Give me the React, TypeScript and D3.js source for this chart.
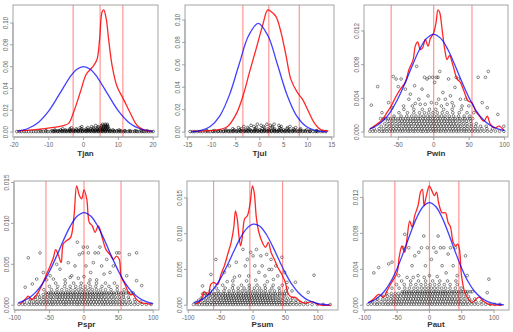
import React from "react";
import * as d3 from "d3";

// ---------------- DATA ----------------
const panelNames = ["Tjan", "Tjul", "Pwin", "Pspr", "Psum", "Paut"];

const tjanXTicks = [-20, -10, 0, 10, 20];
const tjulXTicks = [-15, -10, -5, 0, 5, 10, 15];
const pwinXTicks = [-50, 0, 50, 100];
const psprXTicks = [-100, -50, 0, 50, 100];
const psumXTicks = [-100, -50, 0, 50, 100];
const pautXTicks = [-100, -50, 0, 50, 100];

const tempYTicks = [0, 0.02, 0.04, 0.06, 0.08, 0.1];
const precipYTicksA = [0, 0.004, 0.008, 0.012];
const precipYTicksB = [0, 0.005, 0.01, 0.015];

const tjanVLines = [-3.0, 4.75, 11.3];
const tjulVLines = [-3.5, 1.9, 8.25];
const pwinVLines = [-60, 0, 54];
const psprVLines = [-55, 0, 53.5];
const psumVLines = [-61, -5, 45.5];
const pautVLines = [-53.5, 0, 45.5];

// red kernel density curves
const tjanRedX = [-18.75, -12, -8, -5.8, -4.3, -2.9, -1.0, 0.77, 2.4, 3.8, 4.6, 5.3, 5.77, 6.5, 7.2, 8.2, 9.6, 11.5, 13.5, 15.4, 17.3, 19.7];
const tjanRedY = [0.001, 0.003, 0.0045, 0.006, 0.008, 0.018, 0.036, 0.053, 0.059, 0.066, 0.085, 0.110, 0.112, 0.104, 0.085, 0.061, 0.042, 0.030, 0.017, 0.006, 0.002, 0.0006];

const tjulRedX = [-14, -8.75, -6.7, -4.9, -3.5, -2.15, -0.76, 0.6, 1.67, 2.36, 3.4, 4.44, 5.5, 6.5, 7.9, 8.96, 10, 11.4, 12.8, 14.3];
const tjulRedY = [0.0006, 0.002, 0.005, 0.016, 0.032, 0.053, 0.074, 0.095, 0.109, 0.1075, 0.103, 0.089, 0.068, 0.047, 0.035, 0.029, 0.020, 0.008, 0.002, 0.001];

const pwinRedX = [-90.6, -82.5, -73, -66, -60, -54, -47, -40, -35, -29, -26, -22.6, -18.9, -15.6, -11.8, -8, -4.7, 0, 3.3, 6.1, 8.5, 11.8, 15.6, 18.9, 22.2, 26.9, 33, 37.7, 42.5, 48.6, 54, 59, 64.6, 70.8, 75.5, 80, 87, 92, 99];
const pwinRedY = [0.0003, 0.0008, 0.0014, 0.0023, 0.0031, 0.0041, 0.0051, 0.0059, 0.0074, 0.0086, 0.0102, 0.0107, 0.0098, 0.0100, 0.0110, 0.0102, 0.0111, 0.0118, 0.0130, 0.0145, 0.0142, 0.0122, 0.0098, 0.0086, 0.0091, 0.0080, 0.0063, 0.0059, 0.0049, 0.0037, 0.0035, 0.0025, 0.0019, 0.0013, 0.0019, 0.0009, 0.0005, 0.0007, 0.0002];

const psprRedX = [-92.5, -85.3, -80.5, -75.7, -68.4, -61.2, -55, -49, -44.3, -41, -37, -33, -30, -25, -19.3, -14.5, -10.6, -6.7, -3.4, 0, 3.9, 7.7, 12, 16, 20.7, 25.5, 31.8, 37.6, 42.4, 47, 51, 53.5, 59, 66.5, 71, 76, 83, 90.6, 97.8];
const psprRedY = [0.0001, 0.0007, 0.0011, 0.0007, 0.0013, 0.0024, 0.0036, 0.0048, 0.0058, 0.0068, 0.0061, 0.0052, 0.0075, 0.0079, 0.0083, 0.0109, 0.0146, 0.0134, 0.0130, 0.0141, 0.0130, 0.0101, 0.0097, 0.0089, 0.0097, 0.0085, 0.0068, 0.0062, 0.0056, 0.0060, 0.0056, 0.0036, 0.0026, 0.0013, 0.0013, 0.0007, 0.0003, 0.0002, 0.0001];

const psumRedX = [-88.8, -81, -75.7, -69.5, -65.3, -61, -54.8, -49.6, -44.4, -39.2, -33.9, -29.8, -27.2, -24.5, -21.9, -19.3, -16.7, -13, -8.9, -4.7, -1, 1.6, 5.2, 8.9, 14.1, 19.3, 23.5, 27.7, 32.9, 38.1, 44.4, 49.6, 54.8, 60, 65.3, 73.1, 81, 91.4, 101.8, 120];
const psumRedY = [0.00014, 0.0006, 0.0019, 0.0015, 0.0029, 0.0032, 0.0029, 0.0043, 0.0055, 0.0071, 0.0088, 0.0109, 0.0132, 0.0121, 0.0097, 0.0083, 0.0095, 0.0121, 0.0125, 0.0142, 0.0167, 0.0158, 0.0121, 0.0102, 0.0088, 0.0081, 0.0088, 0.0074, 0.0064, 0.0053, 0.0043, 0.0032, 0.0015, 0.0011, 0.0011, 0.0005, 0.0003, 0.0005, 0.00005, 0.00002];

const pautRedX = [-94, -86.3, -78.6, -70.8, -65.6, -60.5, -55.3, -50.1, -46.5, -42.4, -38.2, -34.6, -30.5, -26.9, -22.7, -17.6, -13.4, -10.9, -8.3, -4.7, 0, 4.1, 7.8, 10.9, 14.5, 19.6, 24.8, 28.9, 32.6, 36.7, 40.3, 43.9, 46.5, 49.6, 54.8, 60, 66.1, 76.5, 84.2, 92, 112];
const pautRedY = [0.0003, 0.0007, 0.0012, 0.0009, 0.0016, 0.0023, 0.0029, 0.0036, 0.0055, 0.0066, 0.0059, 0.0075, 0.0094, 0.0087, 0.0100, 0.0111, 0.0127, 0.0129, 0.0111, 0.0122, 0.0133, 0.0127, 0.0122, 0.0126, 0.0113, 0.0103, 0.0103, 0.0092, 0.0087, 0.0070, 0.0066, 0.0068, 0.0062, 0.0033, 0.0014, 0.0007, 0.0003, 0.0009, 0.0004, 0.0001, 0.00002];

// blue fitted normal curves
const tjanBlueX = [-19, -16, -13, -10, -7, -4, -2, 0, 2, 4, 7, 10, 13, 16, 20];
const tjanBlueY = [0.0010, 0.0033, 0.0089, 0.0194, 0.0345, 0.0500, 0.0574, 0.0600, 0.0574, 0.0500, 0.0345, 0.0194, 0.0089, 0.0033, 0.0007];

const tjulBlueX = [-14.3, -12.3, -10.3, -8.3, -6.3, -4.3, -2.3, -0.3, 1.7, 3.7, 5.7, 7.7, 9.7, 11.7, 14.0];
const tjulBlueY = [0.0003, 0.0013, 0.0050, 0.0145, 0.0332, 0.0603, 0.0861, 0.0970, 0.0861, 0.0603, 0.0332, 0.0145, 0.0050, 0.0013, 0.0003];

const pwinBlueX = [-90, -80, -70, -60, -50, -40, -30, -20, -10, 0, 10, 20, 30, 40, 50, 60, 70, 80, 90, 100];
const pwinBlueY = [0.00038, 0.00078, 0.00146, 0.00253, 0.00404, 0.0059, 0.00793, 0.0098, 0.01112, 0.0116, 0.01112, 0.0098, 0.00793, 0.0059, 0.00404, 0.00253, 0.00146, 0.00078, 0.00038, 0.00017];

const psprBlueX = [-95, -90, -80, -70, -60, -50, -40, -30, -20, -10, 0, 10, 20, 30, 40, 50, 60, 70, 80, 90, 100];
const psprBlueY = [0.0003, 0.00043, 0.00086, 0.00157, 0.00265, 0.00413, 0.00594, 0.00788, 0.00964, 0.01088, 0.01133, 0.01088, 0.00964, 0.00788, 0.00594, 0.00413, 0.00265, 0.00157, 0.00086, 0.00043, 0.0002];

const psumBlueX = [-92, -80, -70, -60, -50, -40, -30, -20, -10, 0, 10, 20, 30, 40, 50, 60, 70, 80, 90, 100, 110, 118];
const psumBlueY = [0.00031, 0.00074, 0.00139, 0.00239, 0.00379, 0.00555, 0.0075, 0.00934, 0.01071, 0.01134, 0.01107, 0.00996, 0.00826, 0.00632, 0.00446, 0.0029, 0.00174, 0.00096, 0.00049, 0.00023, 0.0001, 0.00005];

const pautBlueX = [-95, -90, -80, -70, -60, -50, -40, -30, -20, -10, 0, 10, 20, 30, 40, 50, 60, 70, 80, 90, 100, 110, 115];
const pautBlueY = [0.00028, 0.00041, 0.00083, 0.00153, 0.00261, 0.0041, 0.00593, 0.0079, 0.0097, 0.01097, 0.01143, 0.01097, 0.0097, 0.0079, 0.00593, 0.0041, 0.00261, 0.00153, 0.00083, 0.00041, 0.00019, 0.00008, 0.00005];

// observation points: rows of [y, x values] and sparse "x y" pairs
const tjanDotRows: [number, string][] = [
  [0.0005, "-19.2 -18.5 -17.9 -17.1 -16.5 -15.8 -15.0 -14.4 -13.7 -13.0 -12.2 -11.6 -10.9 -10.3 -9.5 -8.8 -8.2 -7.5 -6.9 -6.2 -5.6 -4.9 -4.2 -3.6 -2.9 -2.3 -1.6 -0.9 -0.3 0.4 1.0 1.7 2.3 3.0 3.6 4.3 4.9 5.6 6.2 6.9 7.5 8.2 8.8 9.5 10.1 10.8 11.4 12.1 12.8 13.4 14.1 14.7 15.4 16.0 16.7 17.4 18.0 18.7 19.3 20.0"],
  [0.0009, "-8.5 -7.4 -6.1 -5.0 -3.9 -2.7 -1.5 -0.4 0.8 2.0 3.1 4.2 5.3 6.4 7.6 8.9 10.3 11.8 13.5 15.2 17.1"],
  [0.0013, "-12.5 -10.8 -9.1 -8.0 -7.1 -6.3 -5.4 -4.6 -3.8 -3.1 -2.4 -1.6 -0.9 -0.2 0.6 1.3 2.0 2.7 3.4 4.1 4.8 5.5 6.2 6.9 7.7 8.6 9.6 10.7 11.9 13.2 14.8 16.5 18.3"],
  [0.002, "-8.3 -6.6 -5.2 -4.0 -2.9 -1.9 -0.9 0.1 1.0 1.8 2.6 3.4 4.1 4.7 5.3 5.9 6.5 7.2 8.4 10.2"],
  [0.003, "-6.0 -3.9 -2.1 -0.6 0.8 2.0 3.0 3.9 4.7 5.4 6.0 6.6 7.3"],
  [0.004, "-3.5 -1.0 1.2 2.8 4.1 5.0 5.7 6.3 6.9"],
  [0.005, "-0.5 2.3 4.2 5.2 5.9 6.5 7.0"],
  [0.006, "3.5 5.1 5.8 6.4 6.9"],
  [0.0072, "5.5 6.2 6.8"],
];
const tjulDotRows: [number, string][] = [
  [0.0005, "-14.5 -14.0 -13.5 -12.9 -12.4 -11.9 -11.3 -10.8 -10.3 -9.7 -9.2 -8.7 -8.1 -7.6 -7.1 -6.5 -6.0 -5.5 -4.9 -4.4 -3.9 -3.3 -2.8 -2.3 -1.7 -1.2 -0.7 -0.1 0.4 0.9 1.5 2.0 2.5 3.1 3.6 4.1 4.7 5.2 5.7 6.3 6.8 7.3 7.9 8.4 8.9 9.5 10.0 10.5 11.1 11.6 12.1 12.7 13.2 13.8"],
  [0.0009, "-9.8 -8.6 -7.5 -6.5 -5.6 -4.8 -4.0 -3.2 -2.5 -1.8 -1.1 -0.4 0.3 1.0 1.7 2.4 3.1 3.8 4.5 5.3 6.1 7.0 8.0 9.1 10.4 11.8"],
  [0.0013, "-11.0 -9.4 -8.2 -7.1 -6.2 -5.4 -4.6 -3.8 -3.1 -2.4 -1.7 -1.0 -0.3 0.4 1.1 1.8 2.5 3.2 3.9 4.6 5.3 6.0 6.8 7.6 8.5 9.5 10.6 11.9"],
  [0.002, "-7.0 -5.3 -4.1 -3.0 -2.0 -1.0 0.0 1.0 2.0 3.0 4.0 5.0 6.1 7.2 8.4 9.8"],
  [0.003, "-5.6 -3.8 -2.3 -0.9 0.5 1.8 3.1 4.4 5.7 7.0 8.5"],
  [0.004, "-4.4 -2.5 -0.7 1.0 2.6 4.2 5.8 7.5"],
  [0.005, "-3.3 -1.2 0.8 2.6 4.5 6.3"],
  [0.006, "-1.8 0.3 2.2 4.0"],
  [0.007, "-0.5 1.5 3.0"],
];
const pwinDotRows: [number, string][] = [
  [0.0001, "-90 -86 -82 -77 -73 -70 -66 -62 -58 -55 -51 -47 -44 -40 -36 -33 -29 -26 -22 -18 -15 -11 -8 -4 0 3 7 10 14 17 21 25 28 32 35 39 43 46 50 54 58 62 66 71 76 81 87 93 99"],
  [0.0004, "-84 -77 -71 -66 -61 -57 -53 -49 -45 -41 -37 -33 -29 -25 -21 -17 -13 -9 -5 -1 3 7 11 15 19 23 27 31 35 39 43 47 52 57 62 68 75 83"],
  [0.0007, "-74 -67 -62 -57 -52 -48 -43 -39 -35 -31 -26 -22 -18 -14 -10 -6 -2 2 6 10 14 18 22 26 30 34 38 43 48 53 59 66 74"],
  [0.001, "-69 -63 -58 -53 -48 -44 -40 -36 -32 -28 -24 -20 -16 -12 -8 -4 0 4 8 12 16 20 24 28 32 37 42 47 53 60"],
  [0.0013, "-65 -59 -54 -49 -45 -41 -37 -33 -29 -25 -21 -17 -13 -9 -5 -1 3 7 11 15 19 23 27 31 36 41 46 52"],
  [0.0016, "-75 -71 -68 -64 -61 -57 -54 -50 -47 -43 -40 -36 -33 -29 -26 -22 -19 -15 -12 -8 -5 -1 2 6 9 13 16 20 23 27 30 34 37 41 44 48 51 55"],
  [0.0019, "-56 -46 -38 -31 -25 -19 -14 -9 -4 1 6 11 16 22 28 35 43 51"],
  [0.0023, "-49 -37 -28 -20 -13 -7 -1 5 12 19 27 36 47"],
  [0.0027, "-42 -28 -16 -6 3 14 26 39"],
];
const psprDotRows: [number, string][] = [
  [0.0001, "-94 -89 -85 -80 -76 -72 -68 -64 -60 -56 -52 -48 -45 -41 -37 -33 -29 -26 -22 -18 -14 -10 -7 -3 1 5 8 12 16 20 24 28 31 35 39 43 47 51 55 59 63 68 73 78 84 90 97"],
  [0.0004, "-86 -79 -73 -68 -63 -58 -54 -50 -46 -42 -38 -34 -30 -26 -22 -18 -14 -10 -6 -2 2 6 10 14 18 22 26 30 34 38 42 46 51 56 61 67 74 82"],
  [0.0007, "-77 -70 -64 -59 -54 -49 -45 -40 -36 -32 -28 -24 -20 -16 -12 -8 -4 0 4 8 12 16 20 24 28 32 37 42 47 52 58 65 73"],
  [0.001, "-70 -64 -58 -53 -48 -44 -39 -35 -31 -27 -23 -19 -15 -11 -7 -3 1 5 9 13 17 21 25 30 35 40 45 51 57 64"],
  [0.0013, "-66 -59 -53 -48 -43 -39 -35 -31 -27 -23 -19 -15 -11 -7 -3 1 5 9 13 17 21 25 29 34 39 44 50 57"],
  [0.0015, "-55 -51 -48 -44 -41 -37 -34 -30 -27 -23 -20 -16 -13 -9 -6 -2 1 5 8 12 15 19 22 26 29 33 36 40 43 47 50 54 57 61 64 68 71"],
  [0.0019, "-58 -47 -39 -32 -25 -19 -13 -8 -3 2 7 12 18 24 31 39 48 58"],
  [0.0023, "-50 -38 -28 -20 -12 -5 2 9 17 26 36 48"],
  [0.0027, "-41 -27 -15 -4 7 18 31 44"],
];
const psumDotRows: [number, string][] = [
  [0.0001, "-92 -87 -83 -79 -75 -71 -67 -63 -59 -55 -51 -47 -43 -39 -35 -31 -27 -23 -19 -15 -11 -7 -3 1 5 9 13 17 21 25 29 33 37 41 45 49 53 57 62 67 72 78 84 91 99 108 119"],
  [0.0004, "-88 -81 -75 -70 -65 -60 -56 -52 -48 -44 -40 -36 -32 -28 -24 -20 -16 -12 -8 -4 0 4 8 12 16 20 24 28 32 36 40 44 49 54 60 66 73 81"],
  [0.0007, "-84 -76 -70 -64 -59 -54 -50 -45 -41 -37 -33 -29 -25 -21 -17 -13 -9 -5 -1 3 7 11 15 19 23 27 31 35 40 45 51 58 66"],
  [0.001, "-80 -72 -66 -60 -55 -50 -46 -42 -38 -34 -30 -26 -22 -18 -14 -10 -6 -2 2 6 10 14 18 22 26 30 35 40 46 53 61"],
  [0.0013, "-75 -68 -62 -57 -52 -47 -43 -39 -35 -31 -27 -23 -19 -15 -11 -7 -3 1 5 9 13 17 21 25 30 35 41 48"],
  [0.0016, "-78 -74 -71 -67 -64 -60 -57 -53 -50 -46 -43 -39 -36 -32 -29 -25 -22 -18 -15 -11 -8 -4 -1 3 6 10 13 17 20 24 27 31 34 38 41 45 48 52"],
  [0.002, "-66 -54 -45 -37 -30 -23 -17 -11 -5 1 7 13 19 26 33 41 50 60"],
  [0.0024, "-57 -43 -32 -23 -14 -6 2 10 19 29 40 53"],
  [0.0028, "-47 -31 -18 -6 6 18 31 45"],
];
const pautDotRows: [number, string][] = [
  [0.0001, "-95 -90 -85 -81 -77 -72 -68 -64 -60 -56 -52 -48 -44 -40 -36 -32 -28 -24 -20 -16 -12 -8 -4 0 4 8 12 16 20 24 28 32 36 40 44 48 52 56 60 65 70 75 81 87 94 101 109"],
  [0.0004, "-88 -81 -75 -69 -64 -59 -55 -51 -47 -43 -39 -35 -31 -27 -23 -19 -15 -11 -7 -3 1 5 9 13 17 21 25 29 33 37 41 45 49 54 59 65 72 80"],
  [0.0007, "-80 -72 -66 -60 -55 -50 -46 -41 -37 -33 -29 -25 -21 -17 -13 -9 -5 -1 3 7 11 15 19 23 27 31 35 39 44 49 55 62 70"],
  [0.001, "-72 -65 -59 -54 -49 -45 -40 -36 -32 -28 -24 -20 -16 -12 -8 -4 0 4 8 12 16 20 24 28 32 37 42 47 53 60"],
  [0.0013, "-66 -59 -53 -48 -43 -39 -35 -31 -27 -23 -19 -15 -11 -7 -3 1 5 9 13 17 21 25 29 34 39 44 50 57"],
  [0.0015, "-42 -39 -35 -32 -28 -25 -21 -18 -14 -11 -7 -4 0 3 7 10 14 17 21 24 28 31 35 38 42 45 49 52 56 59 63 66"],
  [0.0019, "-58 -47 -38 -31 -24 -18 -12 -7 -2 3 8 13 19 25 32 40 49"],
  [0.0023, "-51 -39 -29 -21 -13 -6 1 8 15 23 32 43"],
  [0.0027, "-43 -29 -17 -6 5 16 28 41"],
];

const pwinSparse = "-88 0.0032 -79 0.0054 -57 0.0066 -53 0.0063 -50 0.0054 -46 0.0063 -40 0.0051 -35 0.0039 -33 0.0045 -30 0.0031 -27 0.0055 -24 0.0078 -21 0.0039 -19 0.0033 -16.5 0.0051 -13 0.0065 -9.4 0.0063 -8 0.0043 -6 0.0065 -3.3 0.0035 -1.4 0.0065 1.4 0.0059 3.8 0.0065 6.1 0.0065 7 0.0039 8.5 0.0072 10.8 0.0031 13 0.0047 16.5 0.0039 19 0.0033 21 0.0063 23.6 0.0043 26 0.0035 30 0.0053 31.6 0.0065 35 0.0063 37.7 0.0039 40 0.0031 45 0.0039 49.5 0.0031 62.7 0.0065 73 0.0065 77 0.0072 68.4 0.0035 75.5 0.0029 90.5 0.0021 99 0.0007 56.6 0.0023 -73 0.0023 -63.7 0.0035 -59 0.0029 -42.5 0.0031 -12 0.0033 4 0.0034 28 0.0031 -26 0.0034";
const psprSparse = "-85 0.0022 -80.5 0.0058 -63.6 0.0064 -58.8 0.0040 -49 0.0036 -39.5 0.0050 -34.7 0.0044 -27.5 0.0031 -22.7 0.0052 -17.8 0.0036 -13 0.0048 -9.6 0.0077 -6.7 0.0062 -1.9 0.0064 -1 0.0071 4.8 0.0071 6.3 0.0064 2.9 0.0048 9.6 0.0040 13.5 0.0052 15.9 0.0064 20.7 0.0064 23 0.0071 25.5 0.0048 29 0.0038 32.8 0.0056 37.6 0.0040 42.4 0.0048 47.2 0.0064 50.6 0.0064 65.5 0.0062 76 0.0064 61.7 0.0036 83.4 0.0024 76 0.0030 -68.4 0.0032 -74.7 0.0026 -54 0.0031 -44.3 0.0032 18.3 0.0031 -8.2 0.0033 8.7 0.0031 -20 0.0034 0 0.0035";
const psumSparse = "-78 0.0027 -65 0.0043 -57.4 0.0064 -44.4 0.0046 -36.6 0.0055 -31.3 0.0034 -26 0.0060 -21 0.0041 -15.7 0.0078 -12 0.0055 -8.9 0.0064 -6.8 0.0041 -3.7 0.0074 0 0.0069 2.6 0.0055 5.2 0.0078 8.9 0.0046 12 0.0069 14 0.0055 18.3 0.0041 20.9 0.0071 24.5 0.0050 27.7 0.0064 31.3 0.0036 35 0.0055 38.1 0.0041 44.4 0.0067 48.6 0.0046 52.2 0.0032 65.3 0.0032 85 0.0018 94 0.0042 28.7 0.0050 -28.7 0.0039 -10 0.0034 4 0.0035 -40 0.0033 22 0.0033";
const pautSparse = "-86 0.0036 -78.6 0.0042 -63 0.0046 -57.9 0.0048 -47.5 0.0033 -40.8 0.0064 -38.2 0.0079 -32 0.0064 -26.9 0.0044 -22.7 0.0055 -17.6 0.0033 -12.4 0.0064 -8.8 0.0077 -6.2 0.0044 -3.1 0.0064 0 0.0033 3.1 0.0051 6.7 0.0064 10.3 0.0059 13.4 0.0077 17 0.0064 19.6 0.0044 22.2 0.0064 25.8 0.0036 28.9 0.0057 32.6 0.0064 36.7 0.0044 40.3 0.0064 42.9 0.0033 55.8 0.0055 58.4 0.0033 92 0.0029 89.4 0.0014 -16.5 0.0059 -34.6 0.0031 -8 0.0031 12 0.0032 -25 0.0031";

// ---------------- LAYOUT ----------------
const boxes = [
  { x0: 13, x1: 158, y0: 5, y1: 137, xd: [-20.3, 21.4], lab: 16 },
  { x0: 185, x1: 334, y0: 5, y1: 137, xd: [-15.56, 15.48], lab: 16 },
  { x0: 364, x1: 508, y0: 5, y1: 137, xd: [-98.3, 104.8], lab: 16 },
  { x0: 14, x1: 159, y0: 181, y1: 310, xd: [-101.2, 108.4], lab: 14 },
  { x0: 187, x1: 338, y0: 181, y1: 310, xd: [-102, 131], lab: 14 },
  { x0: 363, x1: 509, y0: 181, y1: 310, xd: [-102.8, 123.1], lab: 14 },
];

const nums = (s: string) => s.trim().split(/\s+/).map(Number);

const panels = [
  { name: panelNames[0], rx: tjanRedX, ry: tjanRedY, bx: tjanBlueX, by: tjanBlueY, v: tjanVLines, rows: tjanDotRows, sparse: "", xt: tjanXTicks, yt: tempYTicks, fmt: ".2f", dark: 0.7 },
  { name: panelNames[1], rx: tjulRedX, ry: tjulRedY, bx: tjulBlueX, by: tjulBlueY, v: tjulVLines, rows: tjulDotRows, sparse: "", xt: tjulXTicks, yt: tempYTicks, fmt: ".2f", dark: 0.7 },
  { name: panelNames[2], rx: pwinRedX, ry: pwinRedY, bx: pwinBlueX, by: pwinBlueY, v: pwinVLines, rows: pwinDotRows, sparse: pwinSparse, xt: pwinXTicks, yt: precipYTicksA, fmt: ".3f", dark: 0.6 },
  { name: panelNames[3], rx: psprRedX, ry: psprRedY, bx: psprBlueX, by: psprBlueY, v: psprVLines, rows: psprDotRows, sparse: psprSparse, xt: psprXTicks, yt: precipYTicksB, fmt: ".3f", dark: 0.6 },
  { name: panelNames[4], rx: psumRedX, ry: psumRedY, bx: psumBlueX, by: psumBlueY, v: psumVLines, rows: psumDotRows, sparse: psumSparse, xt: psumXTicks, yt: precipYTicksB, fmt: ".3f", dark: 0.6 },
  { name: panelNames[5], rx: pautRedX, ry: pautRedY, bx: pautBlueX, by: pautBlueY, v: pautVLines, rows: pautDotRows, sparse: pautSparse, xt: pautXTicks, yt: precipYTicksA, fmt: ".3f", dark: 0.6 },
];

const FONT = "'Liberation Sans', Arial, Helvetica, sans-serif";

function Panel({ p, b, idx }: { p: any; b: any; idx: number }) {
  const M = d3.max(p.ry as number[]) as number;
  const x = d3.scaleLinear().domain(b.xd).range([b.x0, b.x1]);
  const y = d3.scaleLinear().domain([-0.04 * M, 1.04 * M]).range([b.y1, b.y0]);
  const line = d3
    .line<[number, number]>()
    .x((d) => x(d[0]))
    .y((d) => y(d[1]))
    .curve(d3.curveCatmullRom.alpha(0.5));
  const red = line(p.rx.map((v: number, i: number) => [v, p.ry[i]]));
  const blue = line(p.bx.map((v: number, i: number) => [v, p.by[i]]));
  const pts: [number, number][] = [];
  p.rows.forEach(([yy, s]: [number, string]) => nums(s).forEach((xx) => pts.push([xx, yy])));
  if (p.sparse) {
    const a = nums(p.sparse);
    for (let i = 0; i + 1 < a.length; i += 2) pts.push([a[i], a[i + 1]]);
  }
  const fmt = d3.format(p.fmt);
  const clipId = `clip${idx}`;
  const xt = p.xt as number[];
  const yt = p.yt as number[];
  return (
    <g>
      <defs>
        <clipPath id={clipId}>
          <rect x={b.x0} y={b.y0} width={b.x1 - b.x0} height={b.y1 - b.y0} />
        </clipPath>
      </defs>
      <g clipPath={`url(#${clipId})`}>
        {pts.map((d, i) => (
          <circle key={i} cx={x(d[0])} cy={y(d[1])} r={1.35} fill="none" stroke="#000" strokeOpacity={p.dark} strokeWidth={0.75} />
        ))}
        {p.v.map((v: number, i: number) => (
          <line key={i} x1={x(v)} x2={x(v)} y1={b.y0} y2={b.y1} stroke="#ff0000" strokeOpacity={0.42} strokeWidth={1.2} />
        ))}
        <path d={red || ""} fill="none" stroke="#ff0000" strokeWidth={1.3} strokeOpacity={0.85} />
        <path d={blue || ""} fill="none" stroke="#0000ff" strokeWidth={1.3} strokeOpacity={0.75} />
      </g>
      <rect x={b.x0} y={b.y0} width={b.x1 - b.x0} height={b.y1 - b.y0} fill="none" stroke="#9a9a9a" strokeWidth={0.9} />
      <line x1={x(xt[0])} x2={x(xt[xt.length - 1])} y1={b.y1} y2={b.y1} stroke="#9a9a9a" strokeWidth={0.9} />
      {xt.map((t) => (
        <g key={t}>
          <line x1={x(t)} x2={x(t)} y1={b.y1} y2={b.y1 + 3} stroke="#9a9a9a" strokeWidth={0.9} />
          <text x={x(t)} y={b.y1 + 10} fontSize={6.3} fill="#666" textAnchor="middle" fontFamily={FONT}>
            {t}
          </text>
        </g>
      ))}
      <line x1={b.x0} x2={b.x0} y1={y(yt[0])} y2={y(yt[yt.length - 1])} stroke="#9a9a9a" strokeWidth={0.9} />
      {yt.map((t) => (
        <g key={t}>
          <line x1={b.x0} x2={b.x0 - 3} y1={y(t)} y2={y(t)} stroke="#9a9a9a" strokeWidth={0.9} />
          <text
            x={0}
            y={0}
            transform={`translate(${b.x0 - 5},${y(t)}) rotate(-90)`}
            fontSize={6.3}
            fill="#666"
            textAnchor="middle"
            fontFamily={FONT}
          >
            {fmt(t)}
          </text>
        </g>
      ))}
      <text x={(b.x0 + b.x1) / 2} y={b.y1 + b.lab + 3} fontSize={8} fontWeight="bold" fill="#333" textAnchor="middle" fontFamily={FONT}>
        {p.name}
      </text>
    </g>
  );
}

export default function App() {
  return (
    <svg width={513} height={332} style={{ position: "absolute", left: 0, top: 0, background: "#fff" }}>
      <rect x={0} y={0} width={513} height={332} fill="#fff" />
      {panels.map((p, i) => (
        <Panel key={i} p={p} b={boxes[i]} idx={i} />
      ))}
    </svg>
  );
}
